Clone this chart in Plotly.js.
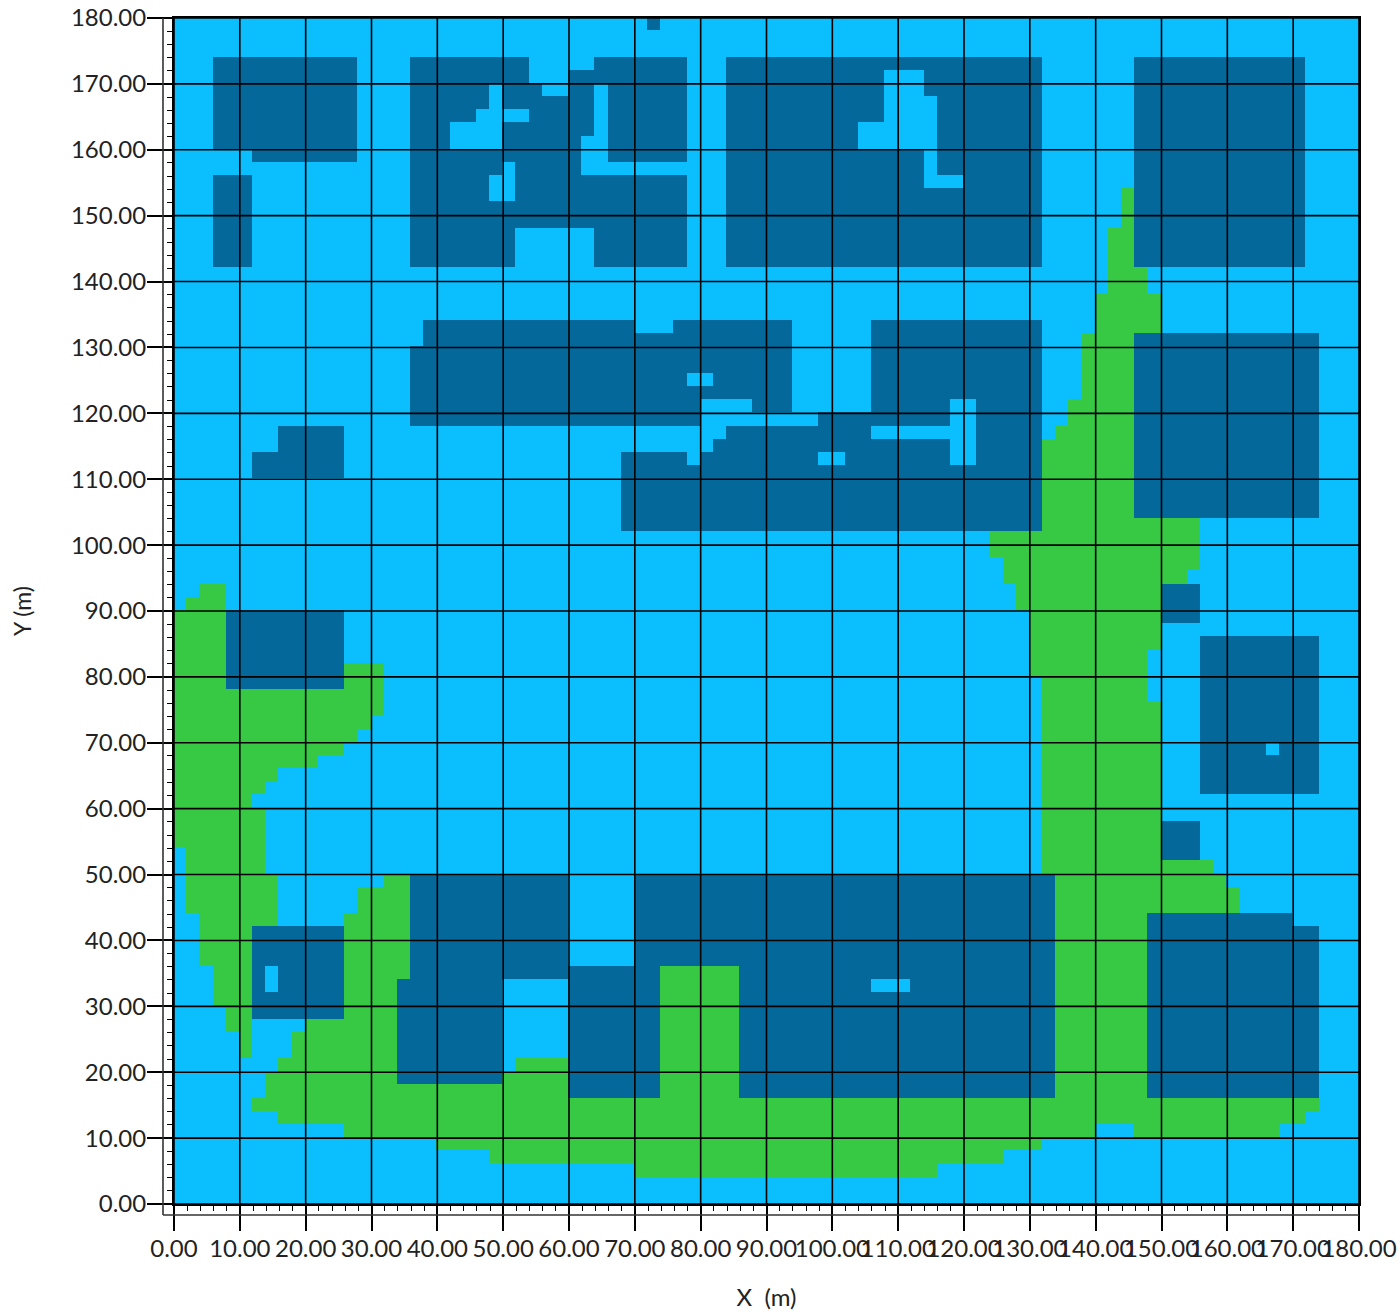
<!DOCTYPE html>
<html>
<head>
<meta charset="utf-8">
<script src="https://cdn.plot.ly/plotly-3.0.1.min.js"></script>
<style>html,body{margin:0;padding:0;background:#fff}#chart{width:1400px;height:1314px}</style>
</head>
<body>
<div id="chart"></div>
<script>
// Cell centres (2 m grid)
const xCells = [1,3,5,7,9,11,13,15,17,19,21,23,25,27,29,31,33,35,37,39,41,43,45,47,49,51,53,55,57,59,61,63,65,67,69,71,73,75,77,79,81,83,85,87,89,91,93,95,97,99,101,103,105,107,109,111,113,115,117,119,121,123,125,127,129,131,133,135,137,139,141,143,145,147,149,151,153,155,157,159,161,163,165,167,169,171,173,175,177,179];
const yCells = [179,177,175,173,171,169,167,165,163,161,159,157,155,153,151,149,147,145,143,141,139,137,135,133,131,129,127,125,123,121,119,117,115,113,111,109,107,105,103,101,99,97,95,93,91,89,87,85,83,81,79,77,75,73,71,69,67,65,63,61,59,57,55,53,51,49,47,45,43,41,39,37,35,33,31,29,27,25,23,21,19,17,15,13,11,9,7,5,3,1];
// One string per row, top to bottom. Dxx-yy: building class, Gxx-yy: vegetation class; everything else is open class.
const rowRuns = [
"D72-74",
"",
"",
"D6-28 D36-54 D64-78 D84-132 D146-172",
"D6-28 D36-54 D60-78 D84-108 D114-132 D146-172",
"D6-28 D36-48 D50-56 D60-64 D66-78 D84-108 D114-132 D146-172",
"D6-28 D36-48 D50-64 D66-78 D84-108 D116-132 D146-172",
"D6-28 D36-46 D54-64 D66-78 D84-108 D116-132 D146-172",
"D6-28 D36-42 D50-64 D66-78 D84-104 D116-132 D146-172",
"D6-28 D36-42 D50-62 D66-78 D84-104 D116-132 D146-172",
"D12-28 D36-62 D66-78 D84-114 D116-132 D146-172",
"D36-50 D52-62 D84-114 D116-132 D146-172",
"D6-12 D36-48 D52-78 D84-114 D120-132 D146-172",
"D6-12 D36-48 D52-78 D84-132 G144-146 D146-172",
"D6-12 D36-78 D84-132 G144-146 D146-172",
"D6-12 D36-78 D84-132 G144-146 D146-172",
"D6-12 D36-52 D64-78 D84-132 G142-146 D146-172",
"D6-12 D36-52 D64-78 D84-132 G142-146 D146-172",
"D6-12 D36-52 D64-78 D84-132 G142-146 D146-172",
"G142-148",
"G142-148",
"G140-150",
"G140-150",
"D38-70 D76-94 D106-132 G140-150",
"D38-94 D106-132 G138-146 D146-174",
"D36-94 D106-132 G138-146 D146-174",
"D36-94 D106-132 G138-146 D146-174",
"D36-78 D82-94 D106-132 G138-146 D146-174",
"D36-94 D106-132 G138-146 D146-174",
"D36-80 D88-94 D106-118 D122-132 G136-146 D146-174",
"D36-80 D98-118 D122-132 G136-146 D146-174",
"D16-26 D84-106 D122-132 G134-146 D146-174",
"D16-26 D82-118 D122-132 G132-146 D146-174",
"D12-26 D68-78 D80-98 D102-118 D122-132 G132-146 D146-174",
"D12-26 D68-132 G132-146 D146-174",
"D68-132 G132-146 D146-174",
"D68-132 G132-146 D146-174",
"D68-132 G132-146 D146-174",
"D68-132 G132-156",
"G124-156",
"G124-156",
"G126-156",
"G126-154",
"G4-8 G128-150 D150-156",
"G2-8 G128-150 D150-156",
"G0-8 D8-26 G130-150 D150-156",
"G0-8 D8-26 G130-150",
"G0-8 D8-26 G130-150 D156-174",
"G0-8 D8-26 G130-148 D156-174",
"G0-8 D8-26 G26-32 G130-148 D156-174",
"G0-8 D8-26 G26-32 G132-148 D156-174",
"G0-32 G132-148 D156-174",
"G0-32 G132-150 D156-174",
"G0-30 G132-150 D156-174",
"G0-28 G132-150 D156-174",
"G0-26 G132-150 D156-166 D168-174",
"G0-22 G132-150 D156-174",
"G0-16 G132-150 D156-174",
"G0-14 G132-150 D156-174",
"G0-12 G132-150",
"G0-14 G132-150",
"G0-14 G132-150 D150-156",
"G0-14 G132-150 D150-156",
"G2-14 G132-150 D150-156",
"G2-14 G132-158",
"G2-16 G32-36 D36-60 D70-134 G134-160",
"G2-16 G28-36 D36-60 D70-134 G134-162",
"G2-16 G28-36 D36-60 D70-134 G134-162",
"G4-16 G26-36 D36-60 D70-134 G134-148 D148-170",
"G4-12 D12-26 G26-36 D36-60 D70-134 G134-148 D148-174",
"G4-12 D12-26 G26-36 D36-60 D70-134 G134-148 D148-174",
"G4-12 D12-26 G26-36 D36-60 D70-134 G134-148 D148-174",
"G6-12 D12-14 D16-26 G26-36 D36-74 G74-86 D86-134 G134-148 D148-174",
"G6-12 D12-14 D16-26 G26-34 D34-50 D60-74 G74-86 D86-106 D112-134 G134-148 D148-174",
"G6-12 D12-26 G26-34 D34-50 D60-74 G74-86 D86-134 G134-148 D148-174",
"G8-12 D12-26 G26-34 D34-50 D60-74 G74-86 D86-134 G134-148 D148-174",
"G8-12 G20-34 D34-50 D60-74 G74-86 D86-134 G134-148 D148-174",
"G10-12 G18-34 D34-50 D60-74 G74-86 D86-134 G134-148 D148-174",
"G10-12 G18-34 D34-50 D60-74 G74-86 D86-134 G134-148 D148-174",
"G16-34 D34-50 G52-60 D60-74 G74-86 D86-134 G134-148 D148-174",
"G14-34 D34-50 G50-60 D60-74 G74-86 D86-134 G134-148 D148-174",
"G14-60 D60-74 G74-86 D86-134 G134-148 D148-174",
"G12-174",
"G16-172",
"G26-140 G146-168",
"G40-132",
"G48-126",
"G70-116",
"",
""
];
const tickValues = [0,10,20,30,40,50,60,70,80,90,100,110,120,130,140,150,160,170,180];
const tickLabels = ["0.00","10.00","20.00","30.00","40.00","50.00","60.00","70.00","80.00","90.00","100.00","110.00","120.00","130.00","140.00","150.00","160.00","170.00","180.00"];
const classColors = ["#0bbfff","#38c944","#05689b"];

const codes = {D:2, G:1};
const z = rowRuns.map(function(row){
  const line = xCells.map(function(){return 0;});
  row.split(" ").filter(Boolean).forEach(function(run){
    const m = run.match(/^([DG])(\d+)-(\d+)$/);
    xCells.forEach(function(cx,i){
      if (cx > +m[2] && cx < +m[3]) line[i] = codes[m[1]];
    });
  });
  return line;
});

const W=1400,H=1314,L=174,R=1359,T=18,B=1204;
const pw=R-L, ph=B-T;
const spineX=-(L-163)/pw, spineY=-(1215-B)/ph;
const shapes=[];
tickValues.forEach(function(t){
  shapes.push({type:"line",layer:"above",xref:"x",yref:"paper",x0:t,x1:t,y0:0,y1:1,line:{color:"#000",width:1.6}});
  shapes.push({type:"line",layer:"above",xref:"paper",yref:"y",x0:0,x1:1,y0:t,y1:t,line:{color:"#000",width:1.6}});
});
shapes.push({type:"line",layer:"above",xref:"paper",yref:"paper",x0:spineX,x1:1,y0:spineY,y1:spineY,line:{color:"#333",width:1.6}});
shapes.push({type:"line",layer:"above",xref:"paper",yref:"paper",x0:spineX,x1:spineX,y0:spineY,y1:1,line:{color:"#333",width:1.6}});

function axis(titleText,titleSize,standoff,labelOffset){
  return {
    range:[0,180],tickmode:"array",tickvals:tickValues,ticktext:tickLabels,tickangle:0,
    ticks:"outside",ticklen:25,tickwidth:1.6,tickcolor:"#000",ticklabelstandoff:labelOffset,
    showline:true,mirror:true,linecolor:"#000",linewidth:2,
    showgrid:true,gridcolor:"#000",gridwidth:1.6,zeroline:false,automargin:false,
    minor:{dtick:2,tick0:0,ticks:"outside",ticklen:5,tickwidth:1.4,tickcolor:"#000",showgrid:false},
    tickfont:{family:"Lato, sans-serif",size:24,color:"#222"},
    title:{text:titleText,standoff:standoff,font:{family:"Lato, sans-serif",size:titleSize,color:"#222"}}
  };
}

Plotly.newPlot("chart",[{
  type:"heatmap",x:xCells.map(function(v){return v-0.15;}),y:yCells.map(function(v){return v+0.15;}),z:z,zmin:0,zmax:2,showscale:false,zsmooth:false,
  colorscale:[[0,classColors[0]],[0.3333,classColors[0]],[0.3333,classColors[1]],[0.6667,classColors[1]],[0.6667,classColors[2]],[1,classColors[2]]]
}],{
  width:W,height:H,margin:{l:L,r:W-R,t:T,b:H-B,pad:0},
  paper_bgcolor:"#fff",plot_bgcolor:"#0bbfff",showlegend:false,
  xaxis:axis("X&nbsp; (m)",24,28,-3),
  yaxis:axis("Y (m)",23,33,-4),
  shapes:shapes
},{displayModeBar:false,responsive:false});
</script>
</body>
</html>
